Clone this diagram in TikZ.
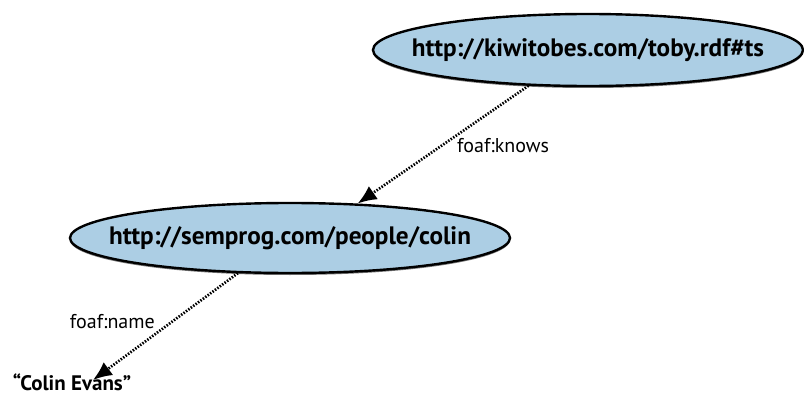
\documentclass[tikz,border=0pt]{standalone}
\usepackage{fontspec}
\setmainfont{PT Sans}
\usetikzlibrary{shapes.geometric,arrows.meta,shadows}
\definecolor{nodeblue}{RGB}{172,206,228}
\begin{document}
\begin{tikzpicture}[x=1pt,y=-1pt,
  resource/.style={ellipse, draw=black, line width=2.4pt, fill=nodeblue,
    inner sep=0pt,
    drop shadow={shadow xshift=0pt, shadow yshift=-2pt, fill=black, opacity=0.55}},
  uri/.style={font=\bfseries\fontsize{25.2}{28}\selectfont, inner sep=0pt},
  literal/.style={font=\bfseries\fontsize{21}{24}\selectfont, inner sep=0pt, anchor=base},
  prop/.style={font=\fontsize{20}{23}\selectfont, inner sep=0pt},
  rel/.style={line width=2.7pt, dash pattern=on 1.5pt off 1.5pt,
    -{Latex[length=19pt,width=16pt]}}]
\useasboundingbox (0,0) rectangle (804,396);
% the two resources
\node[resource, minimum width=430pt, minimum height=72pt] (toby) at (588,50) {};
\node[uri] (tobyuri) at (toby.center) {http://kiwitobes.com/toby.rdf\#ts};
\node[resource, minimum width=440pt, minimum height=70pt] (colin) at (290,238) {};
\node[uri] (colinuri) at (colin.center) {http://semprog.com/people/colin};
% the literal value
\node[literal] (name) at (72,390) {“Colin Evans”};
\coordinate (nameTip) at (93,380);
% the properties
\draw[rel] (toby.211) -- (colin.27);
\node[prop, anchor=west] (knows) at (457,146) {foaf:knows};
\draw[rel] (colin.214) -- (nameTip);
\node[prop, anchor=east] (namelbl) at (155,322) {foaf:name};
\end{tikzpicture}
\end{document}
